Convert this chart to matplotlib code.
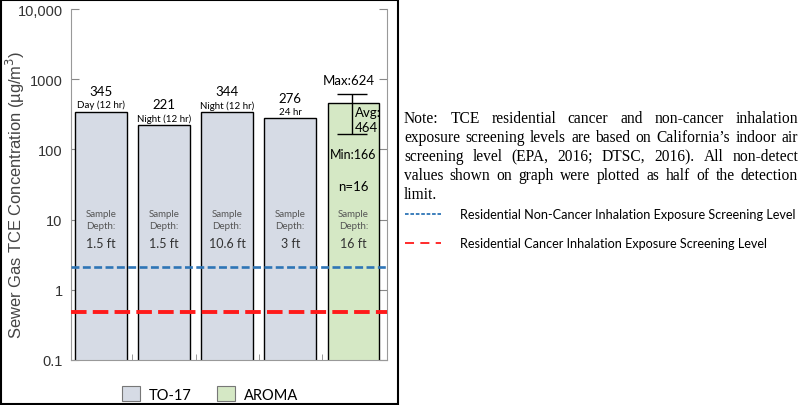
import matplotlib
matplotlib.use('Agg')
import matplotlib.pyplot as plt
from matplotlib.patches import Patch, Rectangle
from matplotlib.lines import Line2D
import numpy as np

# data
methods = ['TO-17', 'TO-17', 'TO-17', 'TO-17', 'AROMA']
values = [345, 221, 344, 276, 464]
periods = ['Day (12 hr)', 'Night (12 hr)', 'Night (12 hr)', '24 hr', '']
depths = ['1.5 ft', '1.5 ft', '10.6 ft', '3 ft', '16 ft']
aroma_min = 166
aroma_max = 624
aroma_n = 16
noncancer_level = 2.1
cancer_level = 0.48
ytick_vals = [0.1, 1, 10, 100, 1000, 10000]
ytick_labels = ['0.1', '1', '10', '100', '1000', '10,000']

colors = {'TO-17': '#d6dbe5', 'AROMA': '#d5e8c5'}
sans = 'Liberation Sans'
cal = 'Lato'

fig = plt.figure(figsize=(8, 4.06), dpi=100)
ax = fig.add_axes([71/800, 45/406, 316/800, 351/406])

x = np.arange(len(values))
ax.bar(x, values, width=0.82, color=[colors[m] for m in methods],
       edgecolor='black', linewidth=1, zorder=2)
ax.errorbar(x[-1] - 0.02, values[-1],
            yerr=[[values[-1] - aroma_min], [aroma_max - values[-1]]],
            fmt='none', ecolor='black', elinewidth=1, capsize=11, capthick=1, zorder=4)

ax.axhline(noncancer_level, color='#2e75b6', lw=1.9, dashes=(3.0, 1.3), zorder=3)
ax.axhline(cancer_level, color='#ff1a1a', lw=2.8, dashes=(4.0, 1.6), zorder=3)

ax.set_yscale('log')
ax.set_ylim(0.1, 10000)
ax.set_xlim(-0.47, 4.53)
ax.set_yticks(ytick_vals)
ax.set_yticklabels(ytick_labels, fontsize=10.5, color='#333333', family=sans)
ax.yaxis.set_minor_locator(matplotlib.ticker.NullLocator())
ax.set_xticks([])
ax.set_xticks(x[:-1] + 0.5, minor=True)
ax.tick_params(axis='x', which='minor', direction='in', length=4, color='#888888')
ax.tick_params(axis='y', which='major', direction='in', length=6, color='#888888',
               right=True, pad=6)
ax.set_ylabel('Sewer Gas TCE Concentration (µg/m$^3$)', fontsize=11.9, color='#444444',
              family=sans)
ax.yaxis.set_label_coords(-0.139, 0.473)
for s in ['left', 'right', 'bottom']:
    ax.spines[s].set_color('#999999')
ax.spines['top'].set_visible(False)

# labels over / inside bars
for i, v in enumerate(values[:-1]):
    ax.annotate(periods[i], (x[i], v), xytext=(0, 5), textcoords='offset points',
                ha='center', va='center', fontsize=7, family=cal)
    ax.annotate(str(v), (x[i], v), xytext=(0, 15), textcoords='offset points',
                ha='center', va='center', fontsize=9.5, family=cal)
ax.annotate('Max:%d' % aroma_max, (x[-1] - 0.07, aroma_max), xytext=(0, 10),
            textcoords='offset points', ha='center', va='center', fontsize=9.5, family=cal)
tr = ax.get_xaxis_transform()
ax.text(x[-1] + 0.02, 0.707, 'Avg:', transform=tr, ha='left', va='center',
        fontsize=9.5, family=cal, zorder=5)
ax.text(x[-1] + 0.02, 0.664, str(values[-1]), transform=tr, ha='left', va='center',
        fontsize=9.5, family=cal, zorder=5)
ax.text(x[-1], 0.587, 'Min:%d' % aroma_min, transform=tr, ha='center', va='center',
        fontsize=9, family=cal)
ax.text(x[-1], 0.496, 'n=%d' % aroma_n, transform=tr, ha='center', va='center',
        fontsize=9.5, family=cal)
for i in x:
    ax.text(i, 0.416, 'Sample', transform=tr, ha='center', va='center',
            fontsize=7, color='#555555', family=cal)
    ax.text(i, 0.382, 'Depth:', transform=tr, ha='center', va='center',
            fontsize=7, color='#555555', family=cal)
    ax.text(i, 0.333, depths[i], transform=tr, ha='center', va='center',
            fontsize=9, color='#333333', family=cal)

# bottom legend
handles = [Patch(facecolor=colors[m], edgecolor='#777777', lw=0.8) for m in ['TO-17', 'AROMA']]
fig.legend(handles, ['TO-17', 'AROMA'], loc='center', bbox_to_anchor=(210/800, 11/406),
           ncol=2, frameon=False, prop={'family': cal, 'size': 10.5},
           handlelength=1.2, handleheight=1.2, columnspacing=1.8, handletextpad=0.6)

# frame around the chart part
fig.add_artist(Rectangle((0.001, 0.002), 397/800, 0.996, transform=fig.transFigure,
                         fill=False, edgecolor='black', lw=1.5))

# note text, justified
note_lines = ['Note: TCE residential cancer and non-cancer inhalation',
              'exposure screening levels are based on California\u2019s indoor air',
              'screening level (EPA, 2016; DTSC, 2016). All non-detect',
              'values shown on graph were plotted as half of the detection',
              'limit.']
left_px, right_px = 404, 798
note_size = 11.2
renderer = fig.canvas.get_renderer()
for k, line in enumerate(note_lines):
    ypx = 119 + k * 19
    yf = 1 - ypx / 406
    words = line.split(' ')
    if k == len(note_lines) - 1:
        fig.text(left_px / 800, yf, line, ha='left', va='center', fontsize=note_size,
                 family='Liberation Serif')
        continue
    arts = [fig.text(0, yf, w, ha='left', va='center', fontsize=note_size,
                     family='Liberation Serif') for w in words]
    widths = [a.get_window_extent(renderer).width for a in arts]
    gap = (right_px - left_px - sum(widths)) / (len(words) - 1)
    cur = left_px
    for a, w in zip(arts, widths):
        a.set_x(cur / 800)
        cur += w + gap

# line legend on the right
fig.add_artist(Line2D([405/800, 441/800], [1 - 215/406] * 2, transform=fig.transFigure,
                      color='#2e75b6', lw=1.3, dashes=(2.0, 1.0)))
fig.add_artist(Line2D([405/800, 441/800], [1 - 244/406] * 2, transform=fig.transFigure,
                      color='#ff1a1a', lw=1.3, dashes=(5.0, 3.5)))
fig.text(460/800, 1 - 215/406, 'Residential Non-Cancer Inhalation Exposure Screening Level',
         ha='left', va='center', fontsize=9.1, family=cal)
fig.text(460/800, 1 - 244/406, 'Residential Cancer Inhalation Exposure Screening Level',
         ha='left', va='center', fontsize=9.1, family=cal)

fig.savefig('out.png', dpi=100)
